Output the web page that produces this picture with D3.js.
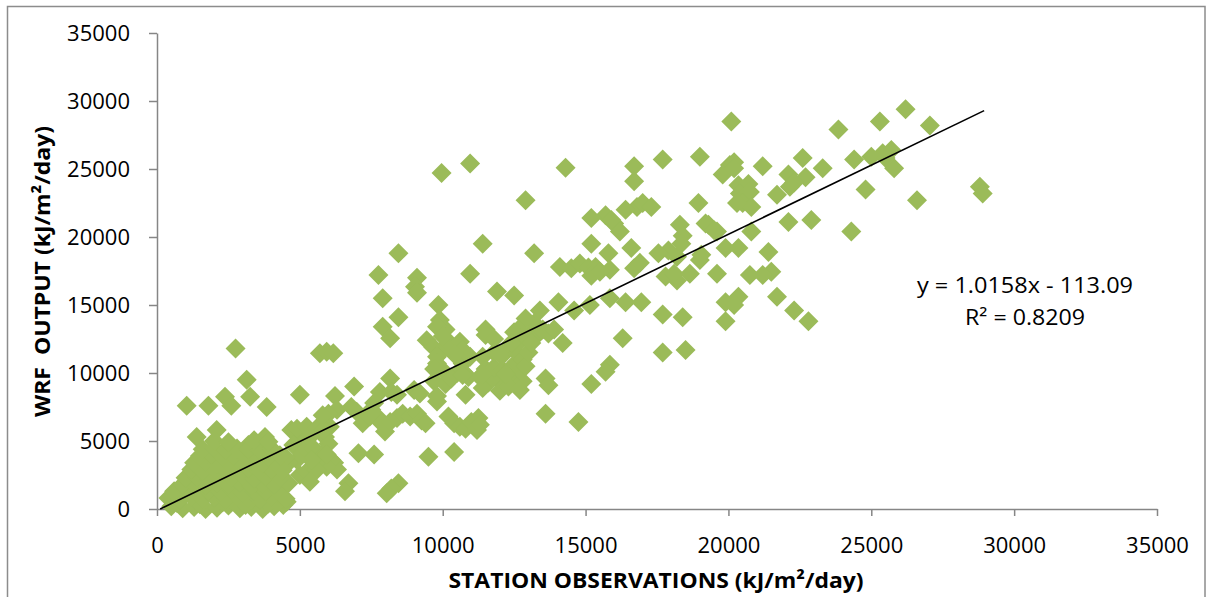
<!DOCTYPE html>
<html><head><meta charset="utf-8">
<script src="https://cdn.jsdelivr.net/npm/d3@7"></script>
<style>
body{margin:0;background:#fff;}
svg{display:block;}
text{font-family:"Open Sans","Noto Sans",sans-serif;fill:#000;}
</style>
</head><body>
<svg id="chart" width="1207" height="597"></svg>
<script>
// ---- data (kJ/m2/day) ----
const xTicks = [0, 5000, 10000, 15000, 20000, 25000, 30000, 35000];
const yTicks = [0, 5000, 10000, 15000, 20000, 25000, 30000, 35000];
const xTitle = "STATION OBSERVATIONS (kJ/m²/day)";
const yTitle = "WRF  OUTPUT (kJ/m²/day)";
const trendCoef = [1.0158, -113.09];      // slope, intercept
const trendRange = [111, 28950];          // x extent of the trendline
const trendLabels = ["y = 1.0158x - 113.09", "R² = 0.8209"];

const obsX = [
 26200,27050,25300,23850,20100,28800,28900,26600,25800,25700,
 25400,25000,25500,24400,24800,24300,23300,22600,22700,22100,
 22300,22150,22100,22900,22300,22800,21700,21200,21400,21500,
 21200,21700,20750,20800,20350,19900,20350,20700,20400,20750,
 20500,20800,20300,20050,20200,19800,20200,19000,19300,19600,
 19200,19500,18950,19600,19900,20350,20200,19900,19000,19050,
 18650,18200,17800,18200,17900,17550,18300,18400,18350,18100,
 17700,17700,18400,17700,18500,
 16700,16700,16800,17000,17300,16400,16000,16200,15700,15200,
 15900,16600,15800,15850,16700,16900,14100,14500,14800,15100,
 15350,15200,15500,15200,14300,12900,13200,14050,14600,15150,
 15850,16400,16950,13400,12700,13200,13050,13500,13700,13900,
 14200,12900,12650,12500,16300,15850,15700,15200,13600,13700,
 13600,14750,11900,12500,10960,11400,10960,9960,8450,7750,
 9100,9030,9100,7900,8450,7900,8160,9850,9900,10100,
 9440,9670,9960,10250,10600,10700,11500,9800,10000,10500,
 10700,10960,11400,11500,9800,10800,
 11300,11600,11900,12200,12500,12800,11400,12000,12300,11500,
 11800,12100,12400,12700,12600,11400,12200,12700,12200,12100,
 12600,12800,12900,13300,13050,12700,12400,13000,13100,11500,
 11800,11800,12000,10400,9800,9800,10000,9700,9800,10900,
 10700,10100,10300,10700,9700,
 8160,7800,7600,6900,6230,6300,6800,9000,7200,7450,
 6050,6200,6300,8200,8400,9200,6000,6990,7500,7700,
 7860,7980,8160,8400,8600,8860,9100,9260,9400,10200,
 10400,10600,10800,11000,11250,11200,11300,7050,7600,9500,
 10400,6700,6580,8450,8200,8040,5760,5880,6000,6100,
 5940,5800,
 2750,3140,3260,1040,1800,2380,2600,3840,5000,1390,
 2090,3200,3780,5700,5940,6170,4700,5000,5240,5470,
 4900,5240,5590,5820,5800,4770,5120,5470,5700,5940,
 5000,5240,5590,5350,4420,4540,5400,4900,4600,4500,
 500,900,1300,1700,2100,2500,2900,3300,3700,4100,
 700,1500,2300,3100,3900,
 400,800,1200,1600,2000,2400,2800,3200,3600,4000,4500,
 600,1000,1400,1800,2200,2600,3000,3400,3800,4200,
 900,1300,1700,2100,2500,2900,3300,3700,4100,4600,
 1000,1400,1800,2200,2600,3000,3400,3800,4300,
 1200,1600,2000,2400,2800,3200,3600,4000,4400,
 1300,1700,2100,2500,2900,3300,3700,4100,
 1500,1900,2300,2700,3100,3500,3900,4300,
 1600,2000,2400,2800,3200,3600,4000,
 2000,2500,3400,3900
];
const wrfY = [
 29400,28200,28500,27900,28500,23700,23200,22700,25050,26400,
 26150,25900,25800,25700,23500,20400,25050,25800,24400,24600,
 24000,23700,21100,21250,14600,13800,23100,25200,18900,17450,
 17200,15600,17200,20400,19200,19200,23800,23900,23200,23300,
 22500,22200,22500,25300,25500,24600,25050,25900,20900,20400,
 21000,20500,22500,17300,15200,15600,15000,13800,18300,18700,
 17300,16800,17100,18550,19000,18800,20900,20100,19500,17300,
 25700,14300,14100,11500,11700,
 25200,24100,22200,22500,22200,22000,21000,20400,21600,21400,
 21250,19200,18800,17600,17700,18100,17800,17700,18050,17750,
 17800,17150,17450,19500,25100,22700,18800,15200,14600,15000,
 15500,15200,15200,14600,12900,13650,12900,13200,12900,13200,
 12200,14000,13200,13000,12550,10600,10100,9200,9600,9100,
 7000,6400,16000,15700,17300,19500,25400,24700,18800,17200,
 17000,16350,15900,15500,14100,13400,12550,15000,13900,13200,
 12400,11900,11700,12200,12300,11700,13200,11200,10200,10000,
 10700,11200,11200,10000,7900,8400,
 9700,9300,9600,9200,9500,9400,8900,8700,9000,10300,
 10400,10200,10400,10200,10800,9900,9900,8750,11700,11300,
 11450,11000,10500,12800,12550,12300,12200,11500,12200,12800,
 12500,11500,11400,11400,10700,13400,12700,9400,8300,9700,
 10100,9200,9600,9850,10300,
 9600,8600,7800,9000,8300,7300,7500,8750,6300,6800,
 6050,3400,2900,8600,8400,8500,7000,7150,7300,6800,
 6300,5700,6400,6700,7000,6800,7000,6500,6300,6800,
 6300,6050,5900,6400,6700,5800,6200,4100,4000,3850,
 4200,1900,1300,1900,1500,1150,6050,5300,4800,3600,
 3100,4100,
 11800,9500,8260,7600,7600,8260,7600,7500,8400,5300,
 5800,4700,5300,11450,11560,11450,5800,5300,5070,5560,
 5900,6050,5930,5800,6900,4700,4200,4460,3700,4000,
 2500,2740,2870,2000,300,540,3600,3600,3400,3800,
 200,50,150,0,100,250,50,150,0,200,
 450,350,500,300,400,
 800,700,900,750,850,700,950,800,700,900,750,
 1300,1400,1250,1350,1300,1450,1200,1350,1300,1400,
 1800,1900,1750,1850,1800,1950,1700,1850,1800,1900,
 2300,2400,2250,2350,2300,2450,2250,2400,2300,
 2900,2800,2950,2850,2900,3000,2800,2900,2850,
 3400,3500,3350,3450,3400,3550,3350,3450,
 3900,4000,3850,3950,3900,4050,3850,3950,
 4400,4500,4350,4450,4400,4300,4450,
 5000,4900,5050,4950
];

// ---- drawing ----
const svg = d3.select("#chart");
const W = 1207, H = 597;
const plot = {left: 157, right: 1157, top: 33, bottom: 509};
const x = d3.scaleLinear().domain([0, 35000]).range([plot.left, plot.right]);
const y = d3.scaleLinear().domain([0, 35000]).range([plot.bottom, plot.top]);
const axisColor = "#868686";
const markColor = "#9BBB59";

svg.append("rect").attr("x", 0).attr("y", 0).attr("width", W).attr("height", H).attr("fill", "#fff");
// outer chart frame (continues below the visible window)
svg.append("rect").attr("x", 7.5).attr("y", 6.5).attr("width", 1197.5).attr("height", 700)
  .attr("fill", "none").attr("stroke", "#8c8c8c").attr("stroke-width", 1.5);

const yAxis = svg.append("g").attr("transform", `translate(${plot.left},0)`)
  .call(d3.axisLeft(y).tickValues(yTicks).tickSize(8).tickSizeOuter(0).tickPadding(19).tickFormat(d3.format("d")));
const xAxis = svg.append("g").attr("transform", `translate(0,${plot.bottom})`)
  .call(d3.axisBottom(x).tickValues(xTicks).tickSize(7).tickSizeOuter(0).tickPadding(21).tickFormat(d3.format("d")));
[yAxis, xAxis].forEach(g => {
  g.select(".domain").attr("stroke", axisColor).attr("stroke-width", 1.5);
  g.selectAll(".tick line").attr("stroke", axisColor).attr("stroke-width", 1.5);
  g.selectAll(".tick text").attr("fill", "#000").style("font-size", "22px")
    .style("font-family", '"Open Sans","Noto Sans",sans-serif');
});

// points
const pts = obsX.map((v, i) => [v, wrfY[i]]);
svg.append("g").selectAll("path").data(pts).join("path")
  .attr("d", "M0,-10L10,0L0,10L-10,0Z")
  .attr("transform", d => `translate(${x(d[0])},${y(d[1])})`)
  .attr("fill", markColor);

// trendline
svg.append("line")
  .attr("x1", x(trendRange[0])).attr("y1", y(trendCoef[0] * trendRange[0] + trendCoef[1]))
  .attr("x2", x(trendRange[1])).attr("y2", y(trendCoef[0] * trendRange[1] + trendCoef[1]))
  .attr("stroke", "#000").attr("stroke-width", 1.6);

// trendline labels
svg.append("text").attr("x", 1025).attr("y", 293).attr("text-anchor", "middle")
  .attr("textLength", 216).attr("lengthAdjust", "spacingAndGlyphs")
  .style("font-size", "22px").text(trendLabels[0]);
svg.append("text").attr("x", 1025).attr("y", 325).attr("text-anchor", "middle")
  .attr("textLength", 120).attr("lengthAdjust", "spacingAndGlyphs")
  .style("font-size", "22px").text(trendLabels[1]);

// axis titles
svg.append("text").attr("x", 656).attr("y", 588).attr("text-anchor", "middle")
  .attr("textLength", 415).attr("lengthAdjust", "spacingAndGlyphs")
  .style("font-size", "22px").style("font-weight", "bold").text(xTitle);
svg.append("text").attr("transform", "translate(50,271.5) rotate(-90)").attr("text-anchor", "middle")
  .attr("textLength", 291).attr("lengthAdjust", "spacingAndGlyphs")
  .style("white-space", "pre")
  .style("font-size", "22px").style("font-weight", "bold").text(yTitle);
</script>
</body></html>
